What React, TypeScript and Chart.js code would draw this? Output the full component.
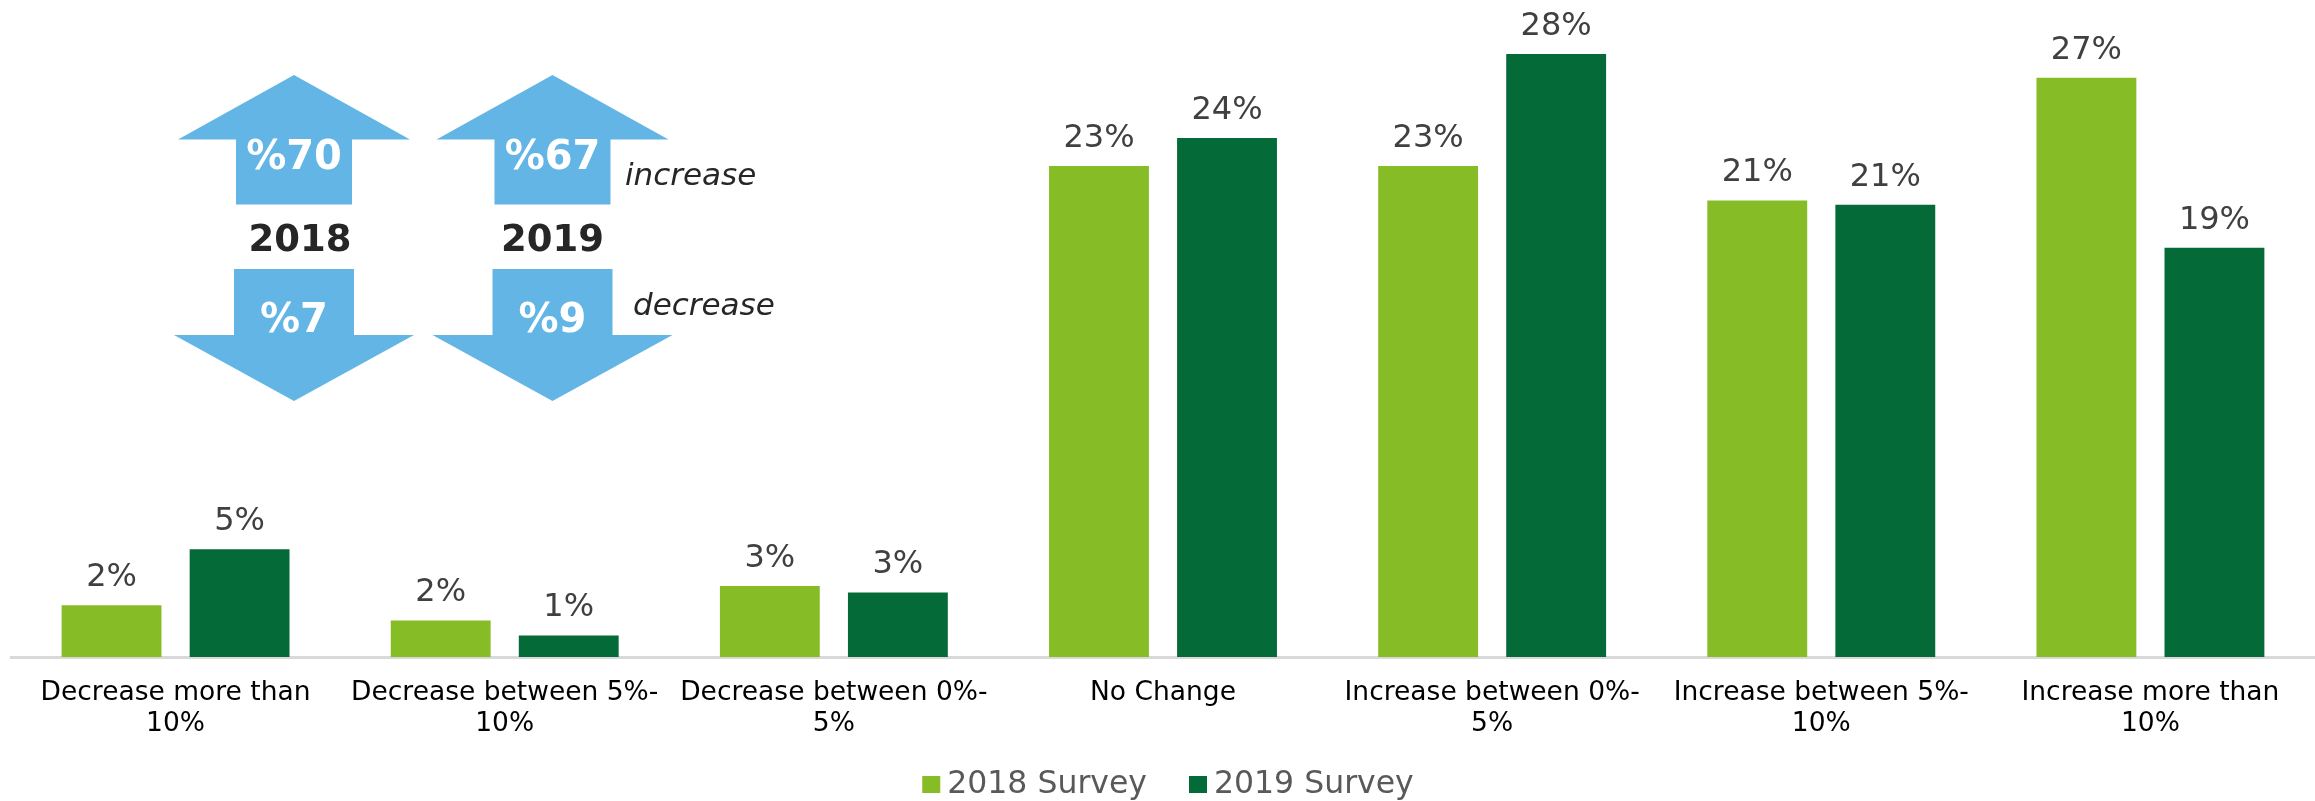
import React, { useEffect, useRef } from "react";
import { Chart, registerables } from "chart.js";

Chart.register(...registerables);

const categories: (string | string[])[] = [
  ["Decrease more than", "10%"],
  ["Decrease between 5%-", "10%"],
  ["Decrease between 0%-", "5%"],
  "No Change",
  ["Increase between 0%-", "5%"],
  ["Increase between 5%-", "10%"],
  ["Increase more than", "10%"],
];

const survey2018 = [2.4, 1.7, 3.3, 22.8, 22.8, 21.2, 26.9];
const survey2019 = [5.0, 1.0, 3.0, 24.1, 28.0, 21.0, 19.0];

const seriesNames = ["2018 Survey", "2019 Survey"];
const summaryYears = ["2018", "2019"];
const increaseTotals = ["%70", "%67"];
const decreaseTotals = ["%7", "%9"];

const LIGHT_GREEN = "#86BC25";
const DARK_GREEN = "#046A38";
const ARROW_BLUE = "#63B5E5";
const FONT = '"DejaVu Sans", Verdana, sans-serif';

const dataLabelPlugin = {
  id: "dataLabels",
  afterDatasetsDraw(chart: any) {
    const ctx = chart.ctx;
    ctx.save();
    ctx.font = `32px ${FONT}`;
    ctx.fillStyle = "#404040";
    ctx.textAlign = "center";
    ctx.textBaseline = "alphabetic";
    chart.data.datasets.forEach((ds: any, i: number) => {
      const meta = chart.getDatasetMeta(i);
      meta.data.forEach((bar: any, j: number) => {
        ctx.fillText(Math.round(ds.data[j]) + "%", bar.x, bar.y - 19);
      });
    });
    ctx.restore();
  },
};

const legendPlugin = {
  id: "customLegend",
  afterDraw(chart: any) {
    const ctx = chart.ctx;
    ctx.save();
    ctx.font = `31.5px ${FONT}`;
    const colors = [LIGHT_GREEN, DARK_GREEN];
    const box = 18;
    const gapBoxText = 7;
    const gapItems = 42;
    const widths = seriesNames.map((n) => ctx.measureText(n).width);
    const total =
      widths.reduce((a: number, b: number) => a + b, 0) +
      seriesNames.length * (box + gapBoxText) +
      gapItems * (seriesNames.length - 1);
    let x = (chart.chartArea.left + chart.chartArea.right) / 2 - total / 2 + 5;
    const baseline = 793;
    seriesNames.forEach((n, i) => {
      ctx.fillStyle = colors[i];
      ctx.fillRect(x, baseline - 17, box, 17);
      x += box + gapBoxText;
      ctx.fillStyle = "#595959";
      ctx.textAlign = "left";
      ctx.textBaseline = "alphabetic";
      ctx.fillText(n, x, baseline);
      x += widths[i] + gapItems;
    });
    ctx.restore();
  },
};

function upArrow(ctx: CanvasRenderingContext2D, cx: number, tipY: number, headBase: number, headHalf: number, shaftHalf: number, bottom: number) {
  ctx.beginPath();
  ctx.moveTo(cx, tipY);
  ctx.lineTo(cx + headHalf, headBase);
  ctx.lineTo(cx + shaftHalf, headBase);
  ctx.lineTo(cx + shaftHalf, bottom);
  ctx.lineTo(cx - shaftHalf, bottom);
  ctx.lineTo(cx - shaftHalf, headBase);
  ctx.lineTo(cx - headHalf, headBase);
  ctx.closePath();
  ctx.fill();
}

function downArrow(ctx: CanvasRenderingContext2D, cx: number, top: number, headBase: number, headHalf: number, shaftHalf: number, tipY: number) {
  ctx.beginPath();
  ctx.moveTo(cx - shaftHalf, top);
  ctx.lineTo(cx + shaftHalf, top);
  ctx.lineTo(cx + shaftHalf, headBase);
  ctx.lineTo(cx + headHalf, headBase);
  ctx.lineTo(cx, tipY);
  ctx.lineTo(cx - headHalf, headBase);
  ctx.lineTo(cx - shaftHalf, headBase);
  ctx.closePath();
  ctx.fill();
}

const arrowsPlugin = {
  id: "summaryArrows",
  afterDraw(chart: any) {
    const ctx: CanvasRenderingContext2D = chart.ctx;
    ctx.save();
    const centers = [294, 552.5];
    centers.forEach((cx, i) => {
      ctx.fillStyle = ARROW_BLUE;
      upArrow(ctx, cx, 75, 139.5, 116, 58, 204.5);
      downArrow(ctx, cx, 269, 335, 120, 60, 401);

      ctx.textAlign = "center";
      ctx.textBaseline = "alphabetic";
      ctx.fillStyle = "#FFFFFF";
      ctx.font = `bold 40px ${FONT}`;
      ctx.fillText(increaseTotals[i], cx, 169);
      ctx.fillText(decreaseTotals[i], cx, 332);

      ctx.fillStyle = "#262626";
      ctx.font = `bold 37px ${FONT}`;
      ctx.fillText(summaryYears[i], cx + (i === 0 ? 6 : 0), 251);
    });
    ctx.fillStyle = "#262626";
    ctx.font = `italic 31px ${FONT}`;
    ctx.textAlign = "left";
    ctx.fillText("increase", 625, 185);
    ctx.fillText("decrease", 633, 315);
    ctx.restore();
  },
};

export default function App() {
  const canvasRef = useRef<HTMLCanvasElement | null>(null);

  useEffect(() => {
    if (!canvasRef.current) return;
    const chart = new Chart(canvasRef.current, {
      type: "bar",
      data: {
        labels: categories,
        datasets: [
          {
            label: seriesNames[0],
            data: survey2018,
            backgroundColor: LIGHT_GREEN,
            categoryPercentage: 0.778,
            barPercentage: 0.78,
          },
          {
            label: seriesNames[1],
            data: survey2019,
            backgroundColor: DARK_GREEN,
            categoryPercentage: 0.778,
            barPercentage: 0.78,
          },
        ],
      },
      options: {
        responsive: false,
        animation: false,
        devicePixelRatio: 1,
        layout: { padding: { left: 11, right: 0, top: 11, bottom: 40 } },
        plugins: {
          legend: { display: false },
          tooltip: { enabled: false },
          title: { display: false },
        },
        scales: {
          x: {
            grid: { display: false, drawTicks: false },
            border: { display: true, color: "#D9D9D9", width: 3 },
            ticks: {
              autoSkip: false,
              maxRotation: 0,
              minRotation: 0,
              padding: 21,
              color: "#000000",
              font: { family: FONT, size: 26.5, lineHeight: "31px" as any },
            },
          },
          y: {
            display: false,
            min: 0,
            max: 30,
          },
        },
      },
      plugins: [dataLabelPlugin, legendPlugin, arrowsPlugin],
    });
    return () => chart.destroy();
  }, []);

  return (
    <div style={{ position: "absolute", left: 0, top: 0, width: 2315, height: 801, background: "#FFFFFF" }}>
      <canvas ref={canvasRef} width={2315} height={801} style={{ display: "block" }} />
    </div>
  );
}
